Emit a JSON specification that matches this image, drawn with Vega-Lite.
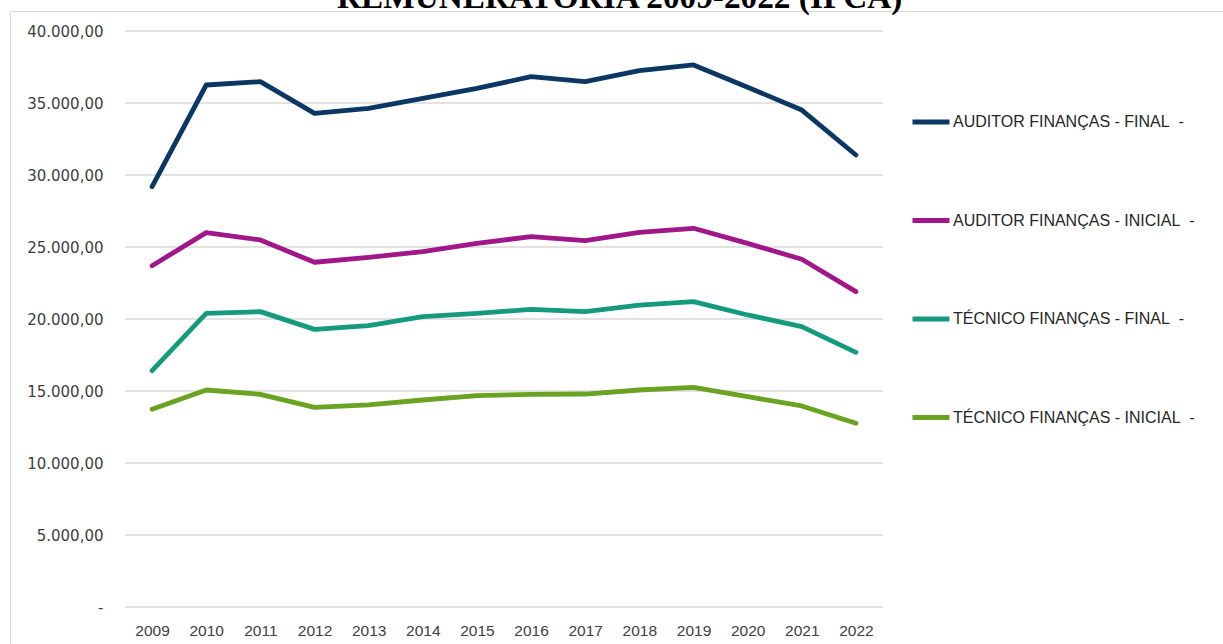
{
  "$schema": "https://vega.github.io/schema/vega-lite/v6.json",
  "width": 1213,
  "height": 633,
  "autosize": "none",
  "padding": {"left": 10, "top": 11, "right": 0, "bottom": 0},
  "background": "white",
  "title": {
    "text": "REMUNERATÓRIA 2009-2022 (IPCA)",
    "font": "Liberation Serif",
    "fontSize": 33.3,
    "fontWeight": "bold",
    "color": "#000000",
    "anchor": "start",
    "frame": "group",
    "dx": 327,
    "dy": 30,
    "offset": 0,
    "baseline": "alphabetic"
  },
  "layer": [
    {
      "data": {"values": [{"v": 0}, {"v": 5000}, {"v": 10000}, {"v": 15000}, {"v": 20000}, {"v": 25000}, {"v": 30000}, {"v": 35000}, {"v": 40000}]},
      "mark": {"type": "rule", "color": "#D9D9D9", "strokeWidth": 1.3},
      "encoding": {
        "x": {"datum": 2008.5, "type": "quantitative"},
        "x2": {"datum": 2022.5},
        "y": {
          "field": "v",
          "type": "quantitative",
          "scale": {"domain": [0, 40000], "range": [596, 20], "nice": false, "zero": true},
          "axis": {
            "title": null,
            "values": [0, 5000, 10000, 15000, 20000, 25000, 30000, 35000, 40000],
            "labelExpr": "datum.value == 0 ? '-' : replace(replace(replace(format(datum.value, ',.2f'), ',', '#'), '.', ','), '#', '.')",
            "labelFont": "DejaVu Sans",
            "labelFontSize": 15,
            "labelColor": "#404040",
            "labelPadding": 22,
            "offset": -115,
            "ticks": false,
            "domain": false,
            "grid": false
          }
        }
      }
    },
    {
      "data": {
        "values": [
          {"ano": 2009, "serie": "AUDITOR FINANÇAS - FINAL  -", "valor": 29190},
          {"ano": 2010, "serie": "AUDITOR FINANÇAS - FINAL  -", "valor": 36250},
          {"ano": 2011, "serie": "AUDITOR FINANÇAS - FINAL  -", "valor": 36480},
          {"ano": 2012, "serie": "AUDITOR FINANÇAS - FINAL  -", "valor": 34280},
          {"ano": 2013, "serie": "AUDITOR FINANÇAS - FINAL  -", "valor": 34630},
          {"ano": 2014, "serie": "AUDITOR FINANÇAS - FINAL  -", "valor": 35320},
          {"ano": 2015, "serie": "AUDITOR FINANÇAS - FINAL  -", "valor": 36020},
          {"ano": 2016, "serie": "AUDITOR FINANÇAS - FINAL  -", "valor": 36830},
          {"ano": 2017, "serie": "AUDITOR FINANÇAS - FINAL  -", "valor": 36480},
          {"ano": 2018, "serie": "AUDITOR FINANÇAS - FINAL  -", "valor": 37245},
          {"ano": 2019, "serie": "AUDITOR FINANÇAS - FINAL  -", "valor": 37640},
          {"ano": 2020, "serie": "AUDITOR FINANÇAS - FINAL  -", "valor": 36100},
          {"ano": 2021, "serie": "AUDITOR FINANÇAS - FINAL  -", "valor": 34510},
          {"ano": 2022, "serie": "AUDITOR FINANÇAS - FINAL  -", "valor": 31390},
          {"ano": 2009, "serie": "AUDITOR FINANÇAS - INICIAL  -", "valor": 23700},
          {"ano": 2010, "serie": "AUDITOR FINANÇAS - INICIAL  -", "valor": 25995},
          {"ano": 2011, "serie": "AUDITOR FINANÇAS - INICIAL  -", "valor": 25490},
          {"ano": 2012, "serie": "AUDITOR FINANÇAS - INICIAL  -", "valor": 23940},
          {"ano": 2013, "serie": "AUDITOR FINANÇAS - INICIAL  -", "valor": 24285},
          {"ano": 2014, "serie": "AUDITOR FINANÇAS - INICIAL  -", "valor": 24675},
          {"ano": 2015, "serie": "AUDITOR FINANÇAS - INICIAL  -", "valor": 25255},
          {"ano": 2016, "serie": "AUDITOR FINANÇAS - INICIAL  -", "valor": 25720},
          {"ano": 2017, "serie": "AUDITOR FINANÇAS - INICIAL  -", "valor": 25440},
          {"ano": 2018, "serie": "AUDITOR FINANÇAS - INICIAL  -", "valor": 26020},
          {"ano": 2019, "serie": "AUDITOR FINANÇAS - INICIAL  -", "valor": 26300},
          {"ano": 2020, "serie": "AUDITOR FINANÇAS - INICIAL  -", "valor": 25255},
          {"ano": 2021, "serie": "AUDITOR FINANÇAS - INICIAL  -", "valor": 24145},
          {"ano": 2022, "serie": "AUDITOR FINANÇAS - INICIAL  -", "valor": 21900},
          {"ano": 2009, "serie": "TÉCNICO FINANÇAS - FINAL  -", "valor": 16410},
          {"ano": 2010, "serie": "TÉCNICO FINANÇAS - FINAL  -", "valor": 20395},
          {"ano": 2011, "serie": "TÉCNICO FINANÇAS - FINAL  -", "valor": 20510},
          {"ano": 2012, "serie": "TÉCNICO FINANÇAS - FINAL  -", "valor": 19280},
          {"ano": 2013, "serie": "TÉCNICO FINANÇAS - FINAL  -", "valor": 19540},
          {"ano": 2014, "serie": "TÉCNICO FINANÇAS - FINAL  -", "valor": 20160},
          {"ano": 2015, "serie": "TÉCNICO FINANÇAS - FINAL  -", "valor": 20395},
          {"ano": 2016, "serie": "TÉCNICO FINANÇAS - FINAL  -", "valor": 20670},
          {"ano": 2017, "serie": "TÉCNICO FINANÇAS - FINAL  -", "valor": 20510},
          {"ano": 2018, "serie": "TÉCNICO FINANÇAS - FINAL  -", "valor": 20970},
          {"ano": 2019, "serie": "TÉCNICO FINANÇAS - FINAL  -", "valor": 21205},
          {"ano": 2020, "serie": "TÉCNICO FINANÇAS - FINAL  -", "valor": 20280},
          {"ano": 2021, "serie": "TÉCNICO FINANÇAS - FINAL  -", "valor": 19470},
          {"ano": 2022, "serie": "TÉCNICO FINANÇAS - FINAL  -", "valor": 17685},
          {"ano": 2009, "serie": "TÉCNICO FINANÇAS - INICIAL  -", "valor": 13730},
          {"ano": 2010, "serie": "TÉCNICO FINANÇAS - INICIAL  -", "valor": 15070},
          {"ano": 2011, "serie": "TÉCNICO FINANÇAS - INICIAL  -", "valor": 14770},
          {"ano": 2012, "serie": "TÉCNICO FINANÇAS - INICIAL  -", "valor": 13865},
          {"ano": 2013, "serie": "TÉCNICO FINANÇAS - INICIAL  -", "valor": 14030},
          {"ano": 2014, "serie": "TÉCNICO FINANÇAS - INICIAL  -", "valor": 14375},
          {"ano": 2015, "serie": "TÉCNICO FINANÇAS - INICIAL  -", "valor": 14675},
          {"ano": 2016, "serie": "TÉCNICO FINANÇAS - INICIAL  -", "valor": 14770},
          {"ano": 2017, "serie": "TÉCNICO FINANÇAS - INICIAL  -", "valor": 14790},
          {"ano": 2018, "serie": "TÉCNICO FINANÇAS - INICIAL  -", "valor": 15070},
          {"ano": 2019, "serie": "TÉCNICO FINANÇAS - INICIAL  -", "valor": 15255},
          {"ano": 2020, "serie": "TÉCNICO FINANÇAS - INICIAL  -", "valor": 14605},
          {"ano": 2021, "serie": "TÉCNICO FINANÇAS - INICIAL  -", "valor": 13960},
          {"ano": 2022, "serie": "TÉCNICO FINANÇAS - INICIAL  -", "valor": 12755}
        ]
      },
      "mark": {"type": "line", "strokeWidth": 4.8, "strokeCap": "round", "strokeJoin": "round"},
      "encoding": {
        "x": {
          "field": "ano",
          "type": "quantitative",
          "scale": {"domain": [2008.5, 2022.5], "range": [115, 873], "nice": false, "zero": false},
          "axis": {
            "title": null,
            "values": [2009, 2010, 2011, 2012, 2013, 2014, 2015, 2016, 2017, 2018, 2019, 2020, 2021, 2022],
            "format": "d",
            "labelAngle": 0,
            "labelFont": "Liberation Sans",
            "labelFontSize": 15.5,
            "labelColor": "#404040",
            "labelPadding": 16,
            "offset": -37,
            "ticks": false,
            "domain": false,
            "grid": false
          }
        },
        "y": {
          "field": "valor",
          "type": "quantitative"
        },
        "color": {
          "field": "serie",
          "type": "nominal",
          "scale": {
            "domain": ["AUDITOR FINANÇAS - FINAL  -", "AUDITOR FINANÇAS - INICIAL  -", "TÉCNICO FINANÇAS - FINAL  -", "TÉCNICO FINANÇAS - INICIAL  -"],
            "range": ["#0B3765", "#A0178A", "#169A7E", "#6AA222"]
          },
          "legend": {
            "orient": "none",
            "legendX": 900,
            "legendY": 90,
            "direction": "vertical",
            "title": null,
            "symbolType": "stroke",
            "symbolSize": 1369,
            "symbolStrokeWidth": 4.8,
            "labelExpr": "replace(datum.label, '  -', '\u00a0 -')",
            "labelFont": "Liberation Sans",
            "labelFontSize": 16,
            "labelColor": "#262626",
            "labelOffset": 1,
            "rowPadding": 67.5,
            "labelLimit": 400
          }
        }
      }
    }
  ],
  "config": {
    "view": {"stroke": "#D9D9D9", "strokeWidth": 1}
  }
}
